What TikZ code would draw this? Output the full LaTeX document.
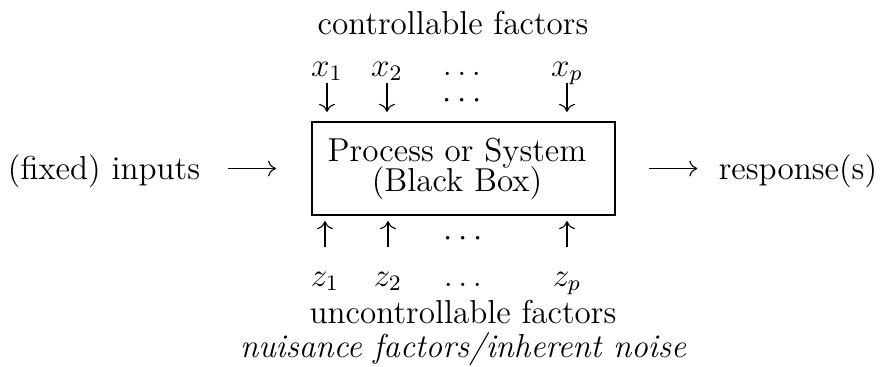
\documentclass[12pt,tikz,border=0pt]{standalone}
\usetikzlibrary{arrows.meta}

\tikzset{
  lbl/.style={anchor=base, inner sep=0pt},
  blackbox/.style={draw, line width=0.8pt, minimum width=109.7pt, minimum height=33.6pt, inner sep=0pt},
  flow/.style={-{To[length=2.9pt, width=5.75pt]}, line width=0.4pt},
}

\begin{document}
\begin{tikzpicture}[x=0.362pt, y=0.362pt]
    \useasboundingbox (0,0) rectangle (883,366);

    % Boite
    \node[blackbox] (box) at (463.5,197.5) {};
    \node[align=center, inner sep=0pt] (proc) at (457,197) {Process or System\\[-3.7pt](Black Box)};

    % Entree et sortie
    \node[lbl] (inputs) at (104,187) {(fixed) inputs};
    \node[lbl] (resp) at (798,187) {response(s)};
    \draw[flow, shorten <=9.8pt, shorten >=12.6pt] (inputs.east |- box.west) -- (box.west);
    \draw[flow, shorten <=11.9pt, shorten >=7.6pt] (box.east) -- (resp.west |- box.east);

    % Facteurs controlables
    \node[lbl] (ctrl) at (453,332) {controllable factors};
    \foreach \i/\xx in {1/327, 2/387, p/567} {
      \node[lbl] (x\i) at (\xx,290) {$x_\i$};
      \draw[flow, shorten <=2.6pt, shorten >=3.3pt] (x\i.base) -- (x\i.base |- box.north);
    }
    \node[lbl] (xdots) at (462,291) {$\ldots$};
    \node[inner sep=0pt] (xcdots) at (462,265) {$\cdots$};

    % Facteurs non controlables
    \foreach \i/\xx in {1/325, 2/388, p/567} {
      \node[lbl] (z\i) at (\xx,80) {$z_\i$};
      \draw[flow, shorten <=14.1pt, shorten >=1.85pt] (z\i.base) -- (z\i.base |- box.south);
    }
    \node[lbl] (zdots) at (463,80) {$\ldots$};
    \node[inner sep=0pt] (zcdots) at (463,127) {$\cdots$};
    \node[lbl] (unctrl) at (463,43) {uncontrollable factors};
    \node[lbl] (noise) at (463,9) {\itshape nuisance factors/inherent noise};
\end{tikzpicture}
\end{document}
